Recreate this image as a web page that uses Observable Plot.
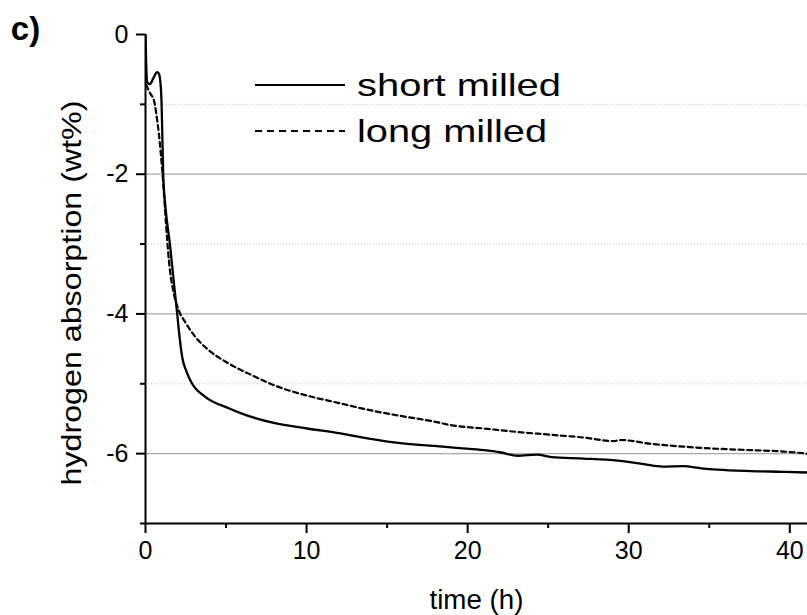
<!DOCTYPE html>
<html>
<head>
<meta charset="utf-8">
<script src="https://cdn.jsdelivr.net/npm/d3@7"></script>
<script src="https://cdn.jsdelivr.net/npm/@observablehq/plot@0.6"></script>
<style>
  html, body { margin: 0; padding: 0; background: #fff; }
  #chart { position: relative; width: 807px; height: 615px; }
  svg { font-family: "Liberation Sans", Arial, sans-serif; }
</style>
</head>
<body>
<div id="chart"></div>
<script>
// ---- data ----
const shortTime  = [0, 0.1, 0.27, 0.5, 0.72, 0.83, 0.95, 1.0, 1.05, 1.1, 1.24, 1.51, 1.76, 1.97, 2.1, 2.28, 2.55, 2.9, 3.73, 5.17, 5.9, 7.97, 10.04, 12.1, 13.77, 15.84, 17.9, 19.5, 21.0, 22.0, 23.1, 24.3, 25.2, 27.2, 29.3, 30.95, 32.1, 33.4, 34.5, 35.5, 37.6, 39.6, 41.1];
const shortValue = [0, -0.68, -0.71, -0.62, -0.54, -0.56, -0.75, -1.0, -1.5, -2.0, -2.47, -2.99, -3.55, -4.0, -4.3, -4.62, -4.83, -5.0, -5.19, -5.35, -5.42, -5.56, -5.64, -5.71, -5.78, -5.85, -5.89, -5.92, -5.95, -5.98, -6.03, -6.015, -6.05, -6.07, -6.1, -6.15, -6.185, -6.18, -6.21, -6.23, -6.25, -6.26, -6.27];

const longTime  = [0.05, 0.2, 0.31, 0.52, 0.68, 0.83, 1.04, 1.35, 1.45, 1.76, 2.07, 2.5, 3.1, 3.93, 5.17, 6.63, 7.97, 10.04, 12.1, 13.77, 15.84, 17.9, 18.9, 21.0, 23.1, 25.2, 27.2, 29.1, 29.5, 31.4, 33.4, 35.5, 37.6, 39.6, 41.1];
const longValue = [-0.72, -0.8, -0.85, -0.94, -1.15, -1.42, -1.95, -2.95, -3.23, -3.71, -3.95, -4.13, -4.33, -4.52, -4.71, -4.88, -5.02, -5.17, -5.28, -5.37, -5.46, -5.54, -5.59, -5.64, -5.69, -5.73, -5.77, -5.82, -5.805, -5.86, -5.9, -5.93, -5.95, -5.97, -6.0];

const seriesNames = ["short milled", "long milled"];
const xMajorTicks = [0, 10, 20, 30, 40];
const xMinorTicks = [5, 15, 25, 35];
const yMajorTicks = [0, -2, -4, -6];
const yMinorTicks = [-1, -3, -5, -7];
const yGridMajor = [-2, -4, -6];
const yGridMinor = [-1, -3, -5];
const xLabel = "time (h)";
const yLabel = "hydrogen absorption (wt%)";
const panelLabel = "c)";

const shortData = shortTime.map((t, i) => ({t, v: shortValue[i]}));
const longData = longTime.map((t, i) => ({t, v: longValue[i]}));

const svg = Plot.plot({
  width: 807,
  height: 615,
  marginLeft: 145,
  marginRight: 0,
  marginTop: 34,
  marginBottom: 92,
  x: {domain: [0, 41.1], label: null},
  y: {domain: [-7, 0], label: null},
  style: {fontFamily: "Liberation Sans, Arial, sans-serif", color: "#000", background: "#fff"},
  marks: [
    Plot.ruleY(yGridMinor, {stroke: "#c8c8c8", strokeWidth: 1, strokeDasharray: "1,2"}),
    Plot.ruleY(yGridMajor, {stroke: "#a8a8a8", strokeWidth: 1.2}),
    Plot.axisY({ticks: yMajorTicks, tickSize: 9, tickPadding: 8, strokeWidth: 2, fontSize: 25, tickFormat: d => String(d), label: null}),
    Plot.axisY({ticks: yMinorTicks, tickSize: 5, strokeWidth: 2, tickFormat: () => "", label: null}),
    Plot.axisX({ticks: xMajorTicks, tickSize: 10, tickPadding: 8, strokeWidth: 2, fontSize: 25, tickFormat: d => String(d), label: null}),
    Plot.axisX({ticks: xMinorTicks, tickSize: 5, strokeWidth: 2, tickFormat: () => "", label: null}),
    Plot.ruleX([0], {strokeWidth: 2}),
    Plot.ruleY([-7], {strokeWidth: 2}),
    Plot.line(longData, {x: "t", y: "v", stroke: "#000", strokeWidth: 2.2, strokeDasharray: "5,3.5", curve: "monotone-x", clip: true}),
    Plot.line(shortData, {x: "t", y: "v", stroke: "#000", strokeWidth: 2.3, curve: "monotone-x", clip: true}),
    Plot.text([xLabel], {frameAnchor: "bottom", dy: 77, lineAnchor: "middle", fontSize: 27, className: "xlab"}),
    Plot.text([yLabel], {frameAnchor: "left", dx: -73, dy: 14, rotate: -90, lineAnchor: "middle", textAnchor: "middle", fontSize: 28, className: "ylab"}),
    Plot.text([panelLabel], {frameAnchor: "top-left", dx: -120, dy: -5, lineAnchor: "middle", textAnchor: "middle", fontSize: 33, fontWeight: "bold", className: "plab"})
  ]
});

document.getElementById("chart").appendChild(svg);

const s = d3.select(svg);
s.selectAll(".ylab text").attr("textLength", 385).attr("lengthAdjust", "spacingAndGlyphs");
s.selectAll(".xlab text").attr("textLength", 94).attr("lengthAdjust", "spacingAndGlyphs");

// legend
const legend = s.append("g").attr("class", "legend");
const legendRows = [
  {name: seriesNames[0], y: 85, dash: null, len: 204},
  {name: seriesNames[1], y: 131, dash: "7,5", len: 190}
];
legendRows.forEach(r => {
  legend.append("line")
    .attr("x1", 255).attr("x2", 345).attr("y1", r.y).attr("y2", r.y)
    .attr("stroke", "#000").attr("stroke-width", 2.2)
    .attr("stroke-dasharray", r.dash);
  legend.append("text")
    .attr("x", 357).attr("y", r.y).attr("dy", "0.35em")
    .attr("text-anchor", "start")
    .attr("font-size", 32)
    .attr("fill", "#000")
    .attr("textLength", r.len).attr("lengthAdjust", "spacingAndGlyphs")
    .text(r.name);
});
</script>
</body>
</html>
